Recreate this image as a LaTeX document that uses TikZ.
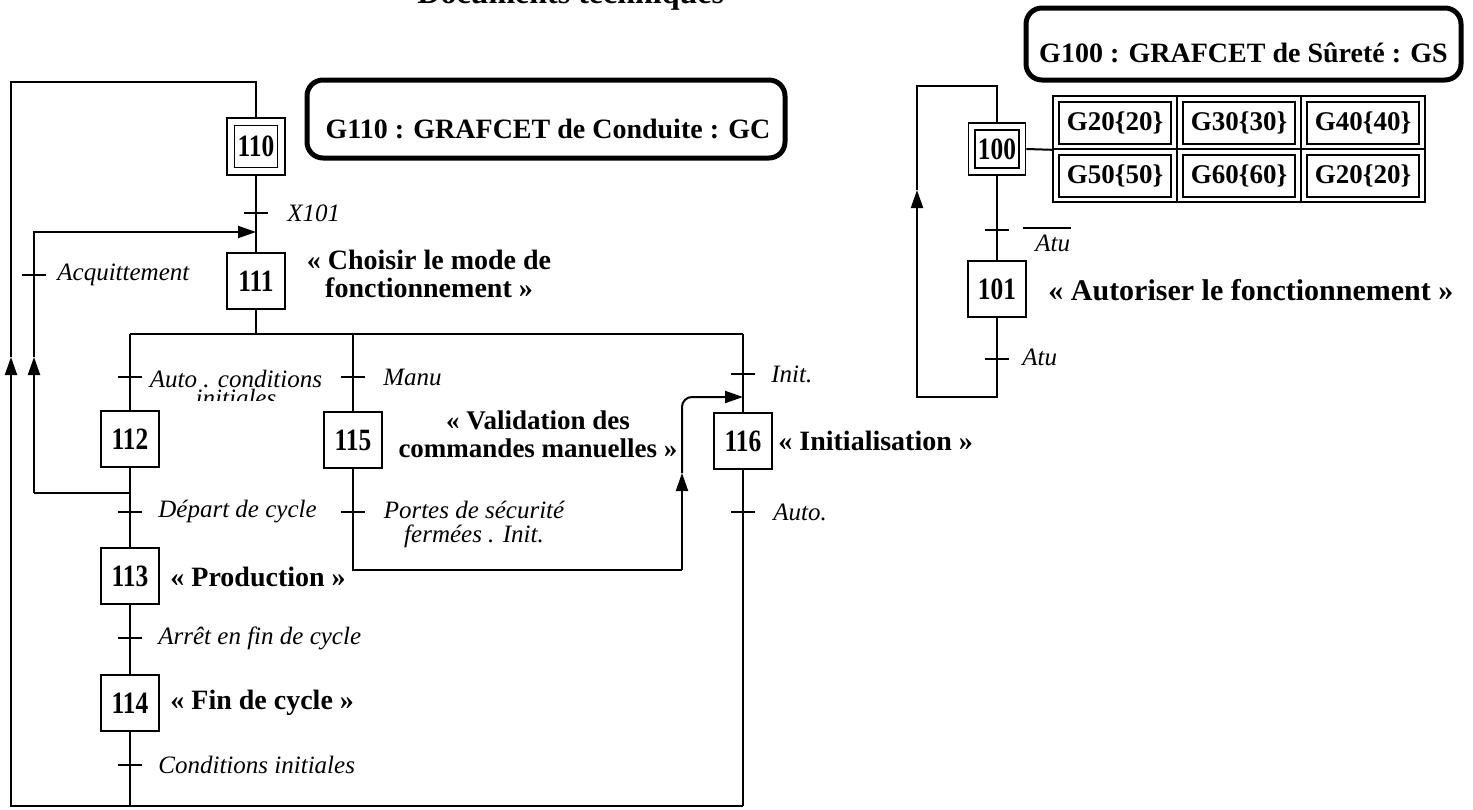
\documentclass[tikz,border=0pt]{standalone}
\usepackage{fontspec}
\setmainfont{Liberation Serif}
\newfontfamily\condserif{Liberation Serif}[FakeStretch=0.82]
\usetikzlibrary{arrows.meta}
\newcommand\grtrans[3]{\coordinate (#1) at (#2,#3); \draw[conn] ([xshift=-6pt]#1) -- ([xshift=6pt]#1);}
\begin{document}
\begin{tikzpicture}[x=0.5pt,y=-0.5pt,
  conn/.style={line width=1pt},
  arr/.style={-{Triangle[length=9pt,width=6pt]}},
  stepbox/.style={draw, line width=1pt, minimum width=29pt, minimum height=28pt, inner sep=0pt, font=\fontsize{15.5}{15.5}\condserif\bfseries},
  initout/.style={draw, line width=0.9pt, minimum width=29pt, minimum height=28.5pt, inner sep=0pt},
  initin/.style={draw, line width=0.9pt, minimum width=21.5pt, minimum height=21pt, inner sep=0pt, font=\fontsize{15.5}{15.5}\condserif\bfseries},
  tlbl/.style={font=\fontsize{12.5}{11.5}\selectfont\itshape, inner sep=0pt, anchor=west},
  blbl/.style={font=\fontsize{14}{14}\selectfont\bfseries, inner sep=0pt, align=center},
  gbox/.style={draw, line width=2.5pt, rounded corners=8pt, inner sep=0pt},
  gtext/.style={font=\fontsize{14}{14}\selectfont\bfseries, inner sep=0pt},
  cellout/.style={draw, line width=0.8pt, minimum width=62pt, minimum height=26.5pt, inner sep=0pt},
  cellin/.style={draw, line width=1pt, minimum width=56pt, minimum height=21pt, inner sep=0pt, font=\fontsize{13.5}{13.5}\selectfont\bfseries}
]
\useasboundingbox (0,0) rectangle (1473,809);

% partially visible heading
\node[font=\fontsize{16}{16}\selectfont\bfseries, anchor=base west, inner sep=0pt] (doctitle) at (417,3) {Documents techniques};

% ===== G110 =====
\node[gbox, minimum width=239pt, minimum height=39pt] (g110) at (546,119) {};
\node[gtext] (g110t) at (548,129) {G110 : GRAFCET de Conduite : GC};

\node[initout] (s110) at (256,146.5) {};
\node[initin] (s110i) at (s110.center) {110};
\grtrans{tX}{256}{213}
\node[tlbl] (lX) at (287,213) {X101};
\coordinate (ia) at (256,232);
\node[stepbox] (s111) at (256,281) {111};
\node[blbl] (a111) at (429,274) {« Choisir le mode de\\fonctionnement »};

\coordinate (dv) at (256,334);
\coordinate (dvL) at (130,334);
\coordinate (dvM) at (353,334);
\coordinate (dvR) at (743,334);

% branch 1
\grtrans{tA}{130}{377}
\begin{scope}
\clip (145,355) rectangle (340,400);
\node[tlbl, anchor=center, align=center, font=\fontsize{12.5}{9.5}\selectfont\itshape] (lA) at (236,388) {Auto . conditions\\initiales};
\end{scope}
\node[stepbox] (s112) at (130,439) {112};
\coordinate (j1) at (130,493);
\grtrans{tD}{130}{512}
\node[tlbl] (lD) at (158,512) {Départ de cycle};
\node[stepbox] (s113) at (130,576) {113};
\node[blbl, anchor=west] (a113) at (170,577) {« Production »};
\grtrans{tE}{130}{638}
\node[tlbl] (lE) at (158,638) {Arrêt en fin de cycle};
\node[stepbox] (s114) at (130,703) {114};
\node[blbl, anchor=west] (a114) at (170,703) {« Fin de cycle »};
\grtrans{tF}{130}{765}
\node[tlbl] (lF) at (158,765) {Conditions initiales};
\coordinate (b1) at (130,806);

% inner loop
\coordinate (il1) at (34,493);
\coordinate (ila) at (34,357);
\coordinate (il2) at (34,232);
\grtrans{tQ}{34}{275}
\node[tlbl] (lQ) at (57,275) {Acquittement};

% outer loop
\coordinate (b3) at (743,806);
\coordinate (ol1) at (11,806);
\coordinate (ola) at (11,357);
\coordinate (ol2) at (11,82);
\coordinate (ol3) at (256,82);

% branch 2
\grtrans{tM}{353}{377}
\node[tlbl] (lM) at (383,377) {Manu};
\node[stepbox] (s115) at (353,440) {115};
\node[blbl, font=\fontsize{13.5}{14}\selectfont\bfseries] (a115) at (538,434) {« Validation des\\commandes manuelles »};
\grtrans{tP}{353}{512}
\node[tlbl, anchor=center, align=center, font=\fontsize{12.5}{12}\selectfont\itshape] (lP) at (474,524) {Portes de sécurité\\fermées . Init.};
\coordinate (m1) at (353,570);
\coordinate (m2) at (682,570);
\coordinate (ma) at (682,473);
\coordinate (m3) at (682,397);
\coordinate (m4) at (743,397);

% branch 3
\grtrans{tI}{743}{374}
\node[tlbl] (lI) at (771,374) {Init.};
\node[stepbox] (s116) at (743,441) {116};
\node[blbl, anchor=west] (a116) at (778,441) {« Initialisation »};
\grtrans{tAu}{743}{512}
\node[tlbl] (lAu) at (773,512) {Auto.};

% connectors left
\draw[conn] (ola) -- (ol2) -- (ol3) -- (s110.north);
\draw[conn, arr] (b3) -- (ol1) -- (ola);
\draw[conn] (s110.south) -- (s111.north);
\draw[conn] (s111.south) -- (dv);
\draw[conn] (dvL) -- (dvR);
\draw[conn] (dvL) -- (s112.north);
\draw[conn] (s112.south) -- (s113.north);
\draw[conn] (s113.south) -- (s114.north);
\draw[conn] (s114.south) -- (b1);
\draw[conn] (j1) -- (il1);
\draw[conn, arr] (il1) -- (ila);
\draw[conn, arr] (ila) -- (il2) -- (ia);
\draw[conn] (dvM) -- (s115.north);
\draw[conn] (s115.south) -- (m1) -- (m2);
\draw[conn, arr] (m2) -- (ma);
\draw[conn, arr, rounded corners=5pt] (ma) -- (m3) -- (m4);
\draw[conn] (dvR) -- (s116.north);
\draw[conn] (s116.south) -- (b3);

% ===== G100 =====
\node[gbox, minimum width=217.5pt, minimum height=36pt] (g100) at (1243.5,44) {};
\node[gtext] (g100t) at (1243.5,53) {G100 : GRAFCET de Sûreté : GS};

\node[initout, minimum width=28.5pt, minimum height=26pt] (s100) at (997,149) {};
\node[initin, minimum width=22pt, minimum height=19pt] (s100i) at (s100.center) {100};

\node[cellout] (c11) at (1115,122.5) {};
\node[cellout] (c12) at (1239,122.5) {};
\node[cellout] (c13) at (1363,122.5) {};
\node[cellout] (c21) at (1115,175.5) {};
\node[cellout] (c22) at (1239,175.5) {};
\node[cellout] (c23) at (1363,175.5) {};
\node[cellin] (d11) at (c11) {G20\{20\}};
\node[cellin] (d12) at (c12) {G30\{30\}};
\node[cellin] (d13) at (c13) {G40\{40\}};
\node[cellin] (d21) at (c21) {G50\{50\}};
\node[cellin] (d22) at (c22) {G60\{60\}};
\node[cellin] (d23) at (c23) {G20\{20\}};
\coordinate (tw) at (c11.south west);

\coordinate (rl1) at (997,86);
\coordinate (rl2) at (917,86);
\coordinate (rla) at (917,190);
\coordinate (rl3) at (917,397);
\coordinate (rb) at (997,397);

\grtrans{rt1}{997}{230}
\node[tlbl] (ratu1) at (1035,243) {Atu};
\draw[line width=0.8pt] ([xshift=-6pt,yshift=3pt]ratu1.north west) -- ([yshift=3pt]ratu1.north east);
\node[stepbox] (s101) at (997,289) {101};
\node[blbl, anchor=west, font=\fontsize{15}{15}\selectfont\bfseries] (a101) at (1048,290) {« Autoriser le fonctionnement »};
\grtrans{rt2}{997}{359}
\node[tlbl] (ratu2) at (1022,357) {Atu};

\draw[conn] (s100.east) -- (tw);
\draw[conn] (s100.south) -- (s101.north);
\draw[conn, arr] (s101.south) -- (rb) -- (rl3) -- (rla);
\draw[conn] (rla) -- (rl2) -- (rl1) -- (s100.north);
\end{tikzpicture}
\end{document}
